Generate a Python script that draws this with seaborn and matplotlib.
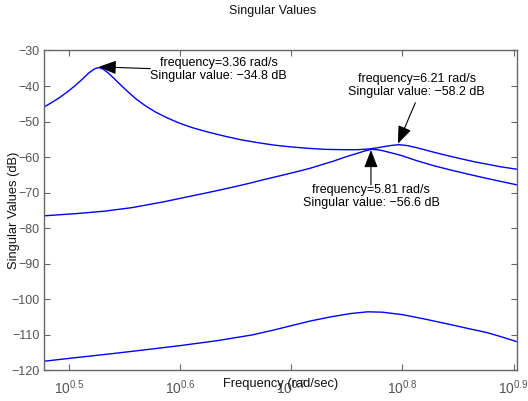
import numpy as np
import pandas as pd
import matplotlib.pyplot as plt
import seaborn as sns

# Werte (Frequenz in rad/s, Singulaerwerte in dB)
freq_top = [3.00, 3.05, 3.10, 3.15, 3.20, 3.25, 3.29, 3.33, 3.36, 3.39, 3.43, 3.47,
            3.52, 3.57, 3.63, 3.70, 3.78, 3.87, 3.97, 4.08, 4.21, 4.35, 4.51, 4.67,
            4.83, 5.00, 5.18, 5.37, 5.56, 5.75, 5.88, 5.98, 6.08, 6.17, 6.26, 6.36,
            6.47, 6.60, 6.73, 6.87, 7.02, 7.18, 7.35, 7.53, 7.73, 8.00]
sv_top = [-45.9, -44.6, -43.2, -41.6, -39.9, -38.0, -36.4, -35.2, -34.8, -35.2, -36.4, -37.9,
          -39.8, -41.6, -43.6, -45.5, -47.3, -48.9, -50.4, -51.7, -52.9, -54.0, -55.1, -55.9,
          -56.6, -57.1, -57.5, -57.8, -57.9, -57.9, -57.7, -57.4, -57.0, -56.7, -56.5, -56.7,
          -57.2, -57.9, -58.6, -59.3, -60.0, -60.7, -61.4, -62.0, -62.7, -63.4]

freq_mid = [3.00, 3.20, 3.40, 3.60, 3.84, 4.02, 4.21, 4.40, 4.60, 4.75, 4.90, 5.05,
            5.20, 5.34, 5.47, 5.60, 5.72, 5.83, 5.92, 6.02, 6.13, 6.29, 6.50, 6.73,
            6.97, 7.21, 7.47, 7.73, 8.00]
sv_mid = [-76.5, -75.9, -75.2, -74.2, -72.6, -71.3, -70.0, -68.7, -67.3, -66.2, -65.2, -64.2,
          -63.2, -62.1, -61.1, -60.0, -59.1, -58.3, -57.8, -58.0, -58.6, -59.5, -61.0, -62.4,
          -63.6, -64.7, -65.8, -66.8, -67.8]

freq_low = [3.00, 3.16, 3.47, 3.72, 3.98, 4.30, 4.62, 4.82, 5.01, 5.21, 5.42, 5.66,
            5.87, 6.05, 6.31, 6.60, 6.95, 7.23, 7.51, 7.76, 8.00]
sv_low = [-117.4, -116.6, -115.2, -114.1, -113.0, -111.6, -110.0, -108.7, -107.4, -106.1,
          -105.0, -104.0, -103.5, -103.6, -104.3, -105.5, -107.0, -108.2, -109.3, -110.6,
          -111.9]

y_ticks = list(range(-120, -29, 10))
x_exponents = [0.5, 0.6, 0.7, 0.8, 0.9]
x_tick_labels = ['$10^{%s}$' % e for e in x_exponents]

sns.set_style('white')
plt.rcParams['font.family'] = ['Liberation Sans', 'DejaVu Sans']
plt.rcParams['mathtext.default'] = 'regular'

fig = plt.figure(figsize=(5.28, 4.01), dpi=100)
ax = fig.add_axes([0.0833, 0.0761, 0.8958, 0.798])

for f, s in [(freq_top, sv_top), (freq_mid, sv_mid), (freq_low, sv_low)]:
    df = pd.DataFrame({'freq': f, 'sv': s})
    sns.lineplot(data=df, x='freq', y='sv', ax=ax, color='#0000ff', lw=1.0, sort=False)

ax.set_xscale('log')
ax.set_xlim(3, 8)
ax.set_ylim(-120, -30)
ax.set_xticks(10 ** np.array(x_exponents), x_tick_labels)
ax.xaxis.set_minor_locator(plt.NullLocator())
ax.set_yticks(y_ticks)

for sp in ax.spines.values():
    sp.set_color('#666666')
    sp.set_linewidth(1.0)
ax.tick_params(direction='in', length=4, width=0.8, color='#666666', labelcolor='#555555',
               labelsize=9, top=True, right=True, bottom=True, left=True)
ax.tick_params(axis='x', pad=6, labelsize=10)
ax.tick_params(axis='y', pad=3)

ax.set_xlabel('Frequency (rad/sec)', fontsize=9.3, color='#111111')
ax.xaxis.set_label_coords(0.5, -0.024)
ax.set_ylabel('Singular Values (dB)', fontsize=9.3, color='#111111')
ax.yaxis.set_label_coords(-0.051, 0.5)

fig.text(272.5 / 528, 1 - 11 / 401, 'Singular Values', ha='center', va='center',
         fontsize=9, color='#111111')

# Pfeile und Beschriftungen
arrow = dict(arrowstyle='-|>,head_length=0.9,head_width=0.35', color='k', lw=0.8,
             mutation_scale=12, shrinkA=0, shrinkB=0)
ax.annotate('', xy=(3.36, -34.6), xytext=(3.74, -35.1), arrowprops=arrow)
ax.annotate('', xy=(6.25, -56.2), xytext=(6.48, -44.7), arrowprops=arrow)
ax.annotate('', xy=(5.91, -58.0), xytext=(5.91, -67.8), arrowprops=arrow)

txt = dict(ha='center', va='center', fontsize=9, color='k', linespacing=1.15)
ax.text(4.31, -35.4, 'frequency=3.36 rad/s\nSingular value: \u221234.8 dB', **txt)
ax.text(6.50, -39.9, 'frequency=6.21 rad/s\nSingular value: \u221258.2 dB', **txt)
ax.text(5.91, -71.1, 'frequency=5.81 rad/s\nSingular value: \u221256.6 dB', **txt)

fig.savefig('out.png', dpi=100)
plt.close()
